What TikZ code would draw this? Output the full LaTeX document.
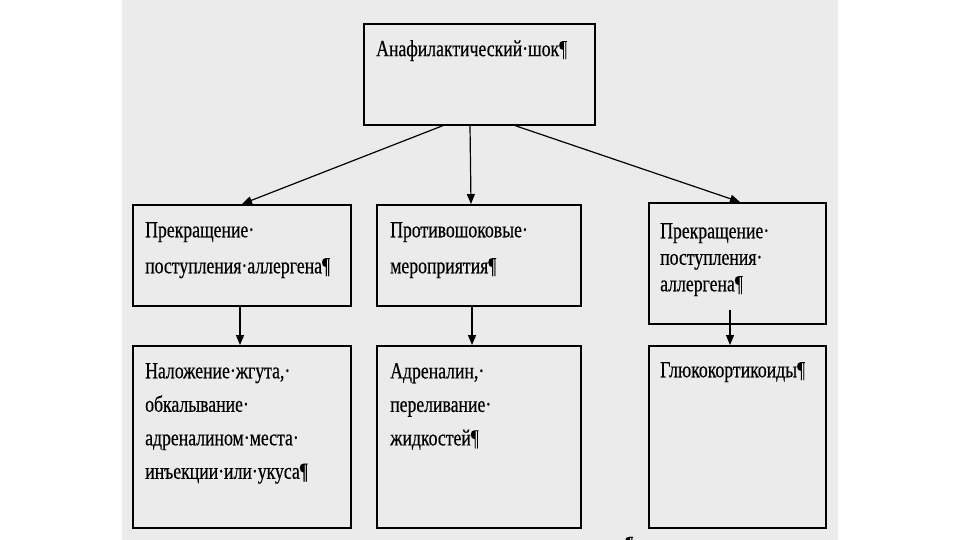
\documentclass[tikz,border=0pt]{standalone}
\usepackage{fontspec}
\setmainfont{Liberation Serif}[FakeStretch=0.77,FakeBold=0.4]
\usetikzlibrary{arrows.meta}
\definecolor{panel}{HTML}{EBEBEB}

\begin{document}
\begin{tikzpicture}[x=1pt,y=-1pt,
	box/.style={draw=black,line width=1.6pt,inner sep=0pt,anchor=north west},
	txt/.style={anchor=north west,inner sep=0pt,align=left,font=\fontsize{23}{36}\selectfont},
	arr/.style={line width=1.2pt,-{Triangle[length=10pt,width=8pt]}}]
	\useasboundingbox (0,0) rectangle (960,540);
	\clip (0,0) rectangle (960,540);
	\fill[panel] (122,0) rectangle (838,540);

	% boxes
	\node[box,minimum width=231pt,minimum height=101pt] (shock) at (363,23) {};
	\node[box,minimum width=218pt,minimum height=101pt] (stopL) at (132,204) {};
	\node[box,minimum width=204pt,minimum height=101pt] (anti) at (376,204) {};
	\node[box,minimum width=177pt,minimum height=121pt] (stopR) at (648,202) {};
	\node[box,minimum width=218pt,minimum height=182pt] (tourn) at (132,345) {};
	\node[box,minimum width=204pt,minimum height=182pt] (adren) at (376,345) {};
	\node[box,minimum width=177pt,minimum height=182pt] (gluco) at (648,345) {};

	% texts
	\node[txt] (tshock) at ([shift={(13,17)}]shock.north west) {Анафилактический·шок¶};
	\node[txt] (tstopL) at ([shift={(13,18)}]stopL.north west) {Прекращение·\\поступления·аллергена¶};
	\node[txt] (tanti) at ([shift={(14,18)}]anti.north west) {Противошоковые·\\мероприятия¶};
	\node[txt,font=\fontsize{23}{26.5}\selectfont] (tstopR) at ([shift={(12,21)}]stopR.north west) {Прекращение·\\поступления·\\аллергена¶};
	\node[txt,font=\fontsize{23}{33.5}\selectfont] (ttourn) at ([shift={(13,18)}]tourn.north west) {Наложение·жгута,·\\обкалывание·\\адреналином·места·\\инъекции·или·укуса¶};
	\node[txt,font=\fontsize{23}{33.5}\selectfont] (tadren) at ([shift={(14,18)}]adren.north west) {Адреналин,·\\переливание·\\жидкостей¶};
	\node[txt] (tgluco) at ([shift={(12,17)}]gluco.north west) {Глюкокортикоиды¶};
	\node[txt,anchor=base west] (pilcrow) at (625,552) {¶};

	% arrows
	\draw[arr] ([xshift=80pt]shock.south west) -- ([xshift=110pt]stopL.north west);
	\draw[arr] ([xshift=107pt]shock.south west) -- ([xshift=95pt]anti.north west);
	\draw[arr] ([xshift=152pt]shock.south west) -- ([xshift=92pt]stopR.north west);
	\draw[arr] ([xshift=108pt]stopL.south west) -- ([xshift=108pt]tourn.north west);
	\draw[arr] ([xshift=96pt]anti.south west) -- ([xshift=96pt]adren.north west);
	\draw[arr] ([xshift=82pt,yshift=15pt]stopR.south west) -- ([xshift=82pt]gluco.north west);
\end{tikzpicture}
\end{document}
